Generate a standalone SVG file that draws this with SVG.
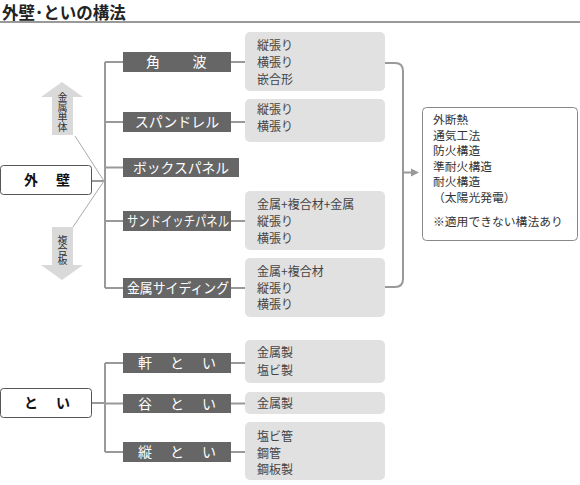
<svg xmlns="http://www.w3.org/2000/svg" width="580" height="485" viewBox="0 0 580 485">
<style>
text{font-family:"Noto Sans CJK JP","Noto Sans",sans-serif}
.title{font-size:16.5px;font-weight:bold;fill:#222}
.main{fill:#fff;stroke:#555;stroke-width:1}
.mainT{font-size:14px;font-weight:bold;fill:#111;text-anchor:middle;letter-spacing:2px}
.dark{fill:#666}
.darkT{font-size:14px;fill:#fff;text-anchor:middle}
.gray{fill:#e1e1e1}
.grayT{font-size:12px;fill:#444}
.note{fill:#fff;stroke:#888;stroke-width:1}
.noteT{font-size:11.8px;fill:#333}
.conn{stroke:#999;stroke-width:2;fill:none}
.diag{stroke:#aaa;stroke-width:1;fill:none}
.arr{fill:#d9d9d9}
.arrT{font-size:10px;fill:#333;writing-mode:vertical-rl;text-orientation:upright}
</style>
<text class="title" x="2" y="18.5">外壁･といの構法</text>
<line x1="0" y1="22" x2="580" y2="22" stroke="#999" stroke-width="2"/>

<g id="connectors">
  <path class="conn" d="M92,181 H105 M105,62 V288 M105,62 H123 M105,122 H123 M105,167.5 H123 M105,221 H123 M105,288 H123"/>
  <path class="conn" d="M231,62 H245 M231,122 H245 M231,221 H245 M231,288 H245"/>
  <path class="conn" d="M385,63 H395 Q403,63 403,71 V279 Q403,287 395,287 H385"/>
  <path class="conn" d="M403,172.5 H412"/>
  <polygon points="411,168.5 419,172.5 411,176.5" fill="#999"/>
  <path class="diag" d="M75,136 L104,181 M73,227 L104,181"/>
  <path class="conn" d="M92,403 H105 M105,363 V452 M105,363 H123 M105,403.5 H123 M105,452 H123"/>
  <path class="conn" d="M231,363 H245 M231,403.5 H245 M231,452 H245"/>
</g>

<g id="arrow-up">
  <polygon class="arr" points="62,82 83,97 73,97 73,135 52,135 52,97 41,97"/>
  <text class="arrT" x="62.5" y="92">金属単体</text>
</g>
<g id="arrow-down">
  <polygon class="arr" points="52,227 73,227 73,265 83,265 62,280 41,265 52,265"/>
  <text class="arrT" x="62.5" y="235">複合板</text>
</g>

<g id="gaiheki">
  <rect class="main" x="0.5" y="165.5" width="91" height="29" rx="3"/>
  <text class="mainT" x="48" y="185">外　壁</text>
</g>
<g id="kakunami">
  <rect class="dark" x="123" y="52" width="108" height="20"/>
  <text class="darkT" x="177" y="67" letter-spacing="1.5">角　　波</text>
</g>
<g id="spandrel">
  <rect class="dark" x="123" y="112" width="108" height="20"/>
  <text class="darkT" x="177" y="127">スパンドレル</text>
</g>
<g id="boxpanel">
  <rect class="dark" x="123" y="158" width="116" height="19"/>
  <text class="darkT" x="181" y="172.5" textLength="96" lengthAdjust="spacingAndGlyphs">ボックスパネル</text>
</g>
<g id="sandwich">
  <rect class="dark" x="123" y="211" width="108" height="20"/>
  <text class="darkT" x="178" y="226" textLength="102" lengthAdjust="spacingAndGlyphs">サンドイッチパネル</text>
</g>
<g id="siding">
  <rect class="dark" x="123" y="278" width="108" height="20"/>
  <text class="darkT" x="178" y="293" textLength="102" lengthAdjust="spacingAndGlyphs">金属サイディング</text>
</g>

<g id="opt-kakunami">
  <rect class="gray" x="245" y="32" width="140" height="59" rx="5"/>
  <text class="grayT" x="257" y="49.5">縦張り</text>
  <text class="grayT" x="257" y="66.5">横張り</text>
  <text class="grayT" x="257" y="83.5">嵌合形</text>
</g>
<g id="opt-spandrel">
  <rect class="gray" x="245" y="99" width="140" height="43" rx="5"/>
  <text class="grayT" x="257" y="114">縦張り</text>
  <text class="grayT" x="257" y="131">横張り</text>
</g>
<g id="opt-sandwich">
  <rect class="gray" x="245" y="191" width="140" height="59" rx="5"/>
  <text class="grayT" x="257" y="209">金属+複合材+金属</text>
  <text class="grayT" x="257" y="226">縦張り</text>
  <text class="grayT" x="257" y="242.5">横張り</text>
</g>
<g id="opt-siding">
  <rect class="gray" x="245" y="258" width="140" height="59" rx="5"/>
  <text class="grayT" x="257" y="276">金属+複合材</text>
  <text class="grayT" x="257" y="292.5">縦張り</text>
  <text class="grayT" x="257" y="309">横張り</text>
</g>

<g id="note">
  <rect class="note" x="422.5" y="107.5" width="155" height="133" rx="4"/>
  <text class="noteT" x="433" y="124">外断熱</text>
  <text class="noteT" x="433" y="139.5">通気工法</text>
  <text class="noteT" x="433" y="155">防火構造</text>
  <text class="noteT" x="433" y="170.5">準耐火構造</text>
  <text class="noteT" x="433" y="186">耐火構造</text>
  <text class="noteT" x="433" y="201.5">（太陽光発電）</text>
  <text class="noteT" x="433" y="226">※適用できない構法あり</text>
</g>

<g id="toi">
  <rect class="main" x="0.5" y="388.5" width="91" height="29" rx="3"/>
  <text class="mainT" x="48" y="408">と　い</text>
</g>
<g id="nokitoi">
  <rect class="dark" x="123" y="353" width="108" height="20"/>
  <text class="darkT" x="178" y="368" letter-spacing="2">軒　と　い</text>
</g>
<g id="tanitoi">
  <rect class="dark" x="123" y="394" width="108" height="19"/>
  <text class="darkT" x="178" y="408.5" letter-spacing="2">谷　と　い</text>
</g>
<g id="tatetoi">
  <rect class="dark" x="123" y="442" width="108" height="20"/>
  <text class="darkT" x="178" y="457" letter-spacing="2">縦　と　い</text>
</g>
<g id="opt-nokitoi">
  <rect class="gray" x="245" y="340" width="140" height="43" rx="5"/>
  <text class="grayT" x="257" y="357">金属製</text>
  <text class="grayT" x="257" y="375">塩ビ製</text>
</g>
<g id="opt-tanitoi">
  <rect class="gray" x="245" y="392" width="140" height="22" rx="5"/>
  <text class="grayT" x="257" y="407.5">金属製</text>
</g>
<g id="opt-tatetoi">
  <rect class="gray" x="245" y="422" width="140" height="58" rx="5"/>
  <text class="grayT" x="257" y="441">塩ビ管</text>
  <text class="grayT" x="257" y="457.5">鋼管</text>
  <text class="grayT" x="257" y="473.5">鋼板製</text>
</g>
</svg>
